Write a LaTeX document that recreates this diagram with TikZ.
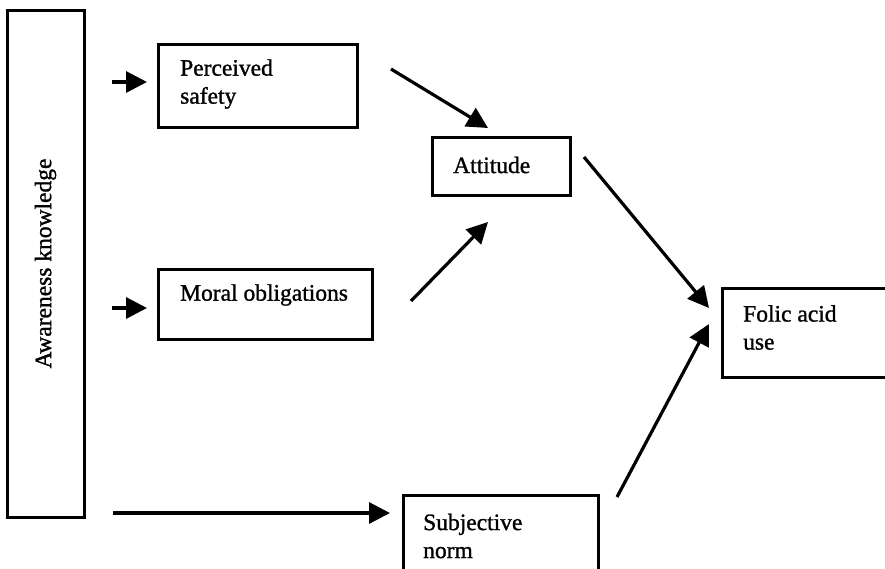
\documentclass[tikz,border=0pt]{standalone}
\usepackage{fontspec}
\setmainfont{Liberation Serif}[FakeBold=1.2]
\newfontfamily\heavyfont{Liberation Serif}[FakeBold=1.2]
\usetikzlibrary{arrows.meta}
\begin{document}
\begin{tikzpicture}[x=1pt,y=-1pt,
  boxed/.style={draw=black, line width=3pt, inner sep=0pt},
  lbl/.style={anchor=west, align=left, inner sep=0pt, font=\heavyfont\fontsize{23.5}{28}\selectfont},
  arr/.style={line width=3.2pt, -{Triangle[length=21pt,width=21pt]}}]
\useasboundingbox (0,0) rectangle (885,568);
% boxes
\node[boxed, minimum width=77pt, minimum height=507pt] (ak) at (45.5,263.5) {};
\node[boxed, minimum width=199pt, minimum height=83pt] (ps) at (257.5,85.5) {};
\node[boxed, minimum width=214pt, minimum height=70pt] (mo) at (265,304) {};
\node[boxed, minimum width=138pt, minimum height=58pt] (at) at (501,166) {};
\node[boxed, minimum width=170pt, minimum height=89pt] (fa) at (807,332.5) {};
\node[boxed, minimum width=195pt, minimum height=80pt] (sn) at (500.5,535) {};
% texts
\node[font=\heavyfont\fontsize{23.5}{28}\selectfont, rotate=90, inner sep=0pt] (akt) at (ak.center) {Awareness knowledge};
\node[lbl] (pst) at (180,84) {Perceived\\safety};
\node[lbl] (mot) at (180,295) {Moral obligations};
\node[lbl] (att) at (453,165) {Attitude};
\node[lbl] (fat) at (743,327.5) {Folic acid\\use};
\node[lbl] (snt) at (423,536) {Subjective\\norm};
% connector end points
\coordinate (p1) at (112,82);
\coordinate (p2) at (147,82);
\coordinate (m1) at (112,308);
\coordinate (m2) at (147,308);
\coordinate (s1) at (113,513);
\coordinate (s2) at (390,513);
\coordinate (q1) at (391,69);
\coordinate (q2) at (488,128);
\coordinate (r1) at (411,301);
\coordinate (r2) at (488,222);
\coordinate (t1) at (584,157);
\coordinate (t2) at (709,308);
\coordinate (u1) at (617,497);
\coordinate (u2) at (709,324);
% connectors
\draw[arr] (p1) -- (p2);
\draw[arr] (m1) -- (m2);
\draw[arr] (s1) -- (s2);
\draw[arr] (q1) -- (q2);
\draw[arr] (r1) -- (r2);
\draw[arr] (t1) -- (t2);
\draw[arr] (u1) -- (u2);
\end{tikzpicture}
\end{document}
